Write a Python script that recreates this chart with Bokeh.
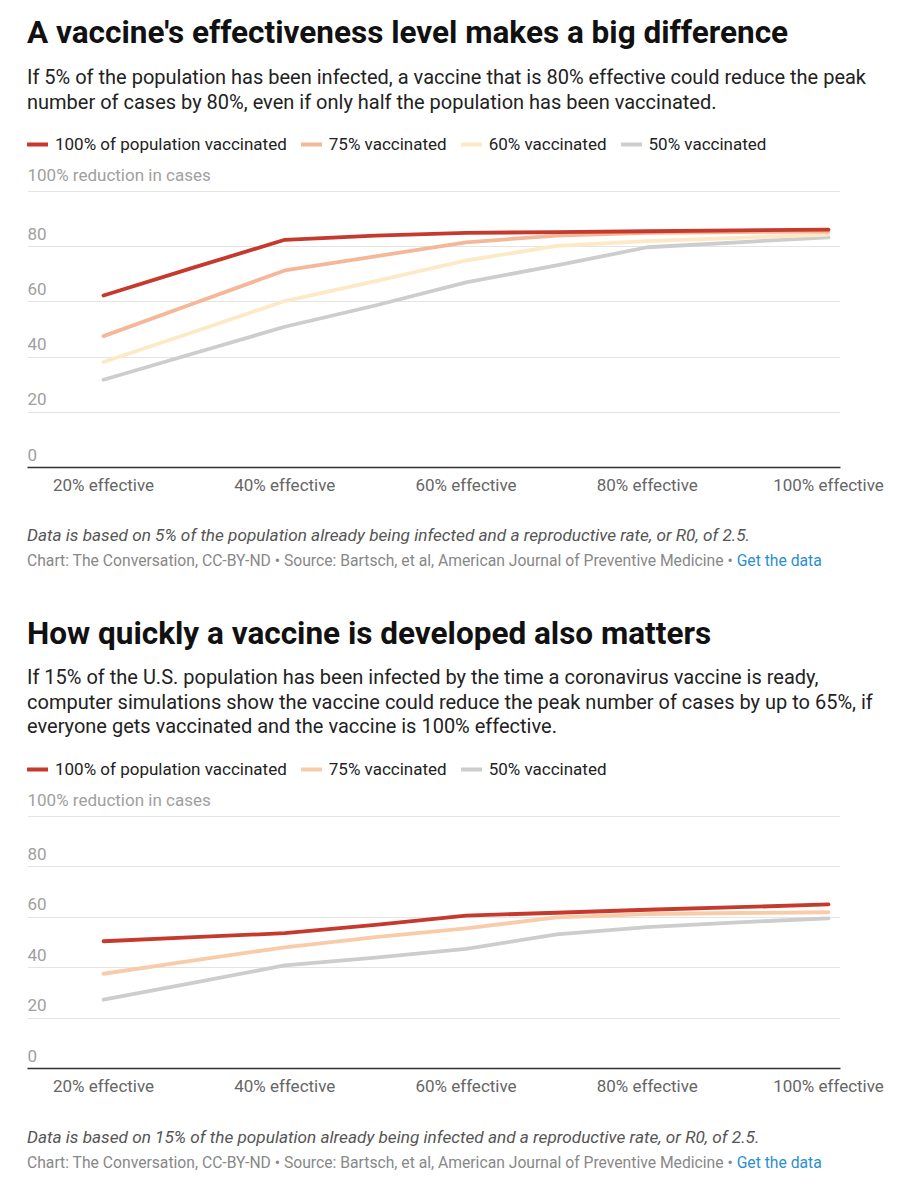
from bokeh.plotting import figure
from bokeh.models import Range1d, FixedTicker, Legend, LegendItem, Div, ColumnDataSource
from bokeh.layouts import column
from bokeh.core.properties import value
from bokeh.embed import file_html
from bokeh.resources import INLINE

# ---------------- data ----------------
effectiveness = [20, 30, 40, 50, 60, 70, 80, 90, 100]
x_ticks = [20, 40, 60, 80, 100]
x_tick_labels = ["20% effective", "40% effective", "60% effective", "80% effective", "100% effective"]
y_ticks = [0, 20, 40, 60, 80, 100]
y_tick_labels = ["0", "20", "40", "60", "80", "100% reduction in cases"]

# chart 1 (5% already infected)
c1_labels = ["100% of population vaccinated", "75% vaccinated", "60% vaccinated", "50% vaccinated"]
c1_vacc100 = [62.3, 72.5, 82.5, 84.0, 85.0, 85.3, 85.6, 85.9, 86.2]
c1_vacc75 = [47.6, 59.5, 71.4, 76.5, 81.6, 84.0, 85.0, 85.3, 85.5]
c1_vacc60 = [38.2, 49.2, 60.3, 67.5, 75.0, 80.3, 82.0, 83.2, 84.4]
c1_vacc50 = [31.8, 41.4, 51.0, 58.7, 67.1, 73.2, 79.8, 81.6, 83.4]
c1_colors = ["#c53a2d", "#f4b898", "#fde9c6", "#cdcdcd"]

# chart 2 (15% already infected)
c2_labels = ["100% of population vaccinated", "75% vaccinated", "50% vaccinated"]
c2_vacc100 = [50.5, 52.1, 53.7, 57.0, 60.7, 61.8, 63.0, 64.0, 65.1]
c2_vacc75 = [37.6, 42.9, 48.1, 52.1, 55.6, 60.0, 61.3, 61.7, 62.0]
c2_vacc50 = [27.3, 34.1, 40.9, 44.0, 47.5, 53.2, 56.1, 58.0, 59.6]
c2_colors = ["#c53a2d", "#f8cca8", "#cdcdcd"]

FONT = "Roboto"
W = 914


def make_chart(series, labels, colors, ye, frame_h):
    top, bottom = 14, 40
    xs, xe = 11.61, 101.32
    p = figure(width=W, height=top + frame_h + bottom,
               x_range=Range1d(xs, xe), y_range=Range1d(0, ye),
               output_backend="svg", toolbar_location=None,
               min_border_left=27, min_border_right=74,
               min_border_top=top, min_border_bottom=bottom,
               y_axis_location=None, outline_line_color=None, margin=0)
    p.title.visible = False
    p.background_fill_color = "white"
    p.border_fill_color = "white"

    # grid
    p.xgrid.visible = False
    p.ygrid.ticker = FixedTicker(ticks=y_ticks)
    p.ygrid.grid_line_color = "#e4e4e4"
    p.ygrid.grid_line_width = 1

    # x axis
    ax = p.xaxis[0]
    ax.ticker = FixedTicker(ticks=x_ticks)
    ax.major_label_overrides = {t: l for t, l in zip(x_ticks, x_tick_labels)}
    ax.major_tick_line_color = None
    ax.minor_tick_line_color = None
    ax.axis_line_color = "#333333"
    ax.axis_line_width = 1.6
    ax.major_label_text_font = FONT
    ax.major_label_text_font_size = "17px"
    ax.major_label_text_color = "#666666"
    ax.major_label_standoff = 1

    # y tick labels drawn inside the frame, above the grid lines
    src = ColumnDataSource(dict(x=[xs] * len(y_ticks), y=y_ticks, t=y_tick_labels))
    p.text(x="x", y="y", text="t", source=src, text_font=value(FONT),
           text_font_size="17px", text_color="#a0a0a0",
           text_baseline="bottom", text_align="left", y_offset=-7)

    items = []
    for vals, lab, col in zip(series, labels, colors):
        r = p.line(effectiveness, vals, line_color=col, line_width=3.8,
                   line_cap="round", line_join="round")
        items.append(LegendItem(label=lab, renderers=[r]))
    # draw first series on top
    p.renderers = [p.renderers[0]] + p.renderers[1:][::-1]

    leg = Legend(items=items, location="top_left", orientation="horizontal",
                 margin=0, padding=0, spacing=14, glyph_width=21, glyph_height=20,
                 label_standoff=7, label_height=20,
                 label_text_font=FONT, label_text_font_size="17px",
                 label_text_color="#222222",
                 border_line_color=None, background_fill_alpha=0)
    p.add_layout(leg, "center")
    return p


def header(title, sub_lines, height, t_top, s_top):
    sub = "<br>".join(sub_lines)
    return (
        f'<div style="position:relative;width:{W}px;height:{height}px;font-family:Roboto,sans-serif;">'
        f'<div style="position:absolute;left:27px;top:{t_top}px;font-size:31.5px;font-weight:700;'
        f'line-height:36px;color:#111;white-space:nowrap;">{title}</div>'
        f'<div style="position:absolute;left:27px;top:{s_top}px;font-size:20px;line-height:24.5px;'
        f'color:#222;white-space:nowrap;">{sub}</div></div>'
    )


def footer(note, height, top):
    return (
        f'<div style="position:relative;width:{W}px;height:{height}px;font-family:Roboto,sans-serif;">'
        f'<div style="position:absolute;left:27px;top:{top}px;font-size:17.2px;font-style:italic;'
        f'line-height:20px;color:#555;white-space:nowrap;">{note}</div>'
        f'<div style="position:absolute;left:27px;top:{top + 26}px;font-size:15.7px;line-height:20px;'
        f'color:#888;white-space:nowrap;">Chart: The Conversation, CC-BY-ND \u2022 '
        f'Source: Bartsch, et al, American Journal of Preventive Medicine \u2022 '
        f'<span style="color:#2b8fd0;">Get the data</span></div></div>'
    )


div1 = Div(text=header("A vaccine's effectiveness level makes a big difference",
                       ["If 5% of the population has been infected, a vaccine that is 80% effective could reduce the peak",
                        "number of cases by 80%, even if only half the population has been vaccinated."],
                       120, 15, 65),
           width=W, height=120, margin=0)

p1 = make_chart([c1_vacc100, c1_vacc75, c1_vacc60, c1_vacc50], c1_labels, c1_colors,
                ye=100 + (191 - 134) / 2.76, frame_h=467 - 134)

foot1 = Div(text=footer("Data is based on 5% of the population already being infected and a reproductive rate, or R0, of 2.5.", 83, 18),
            width=W, height=83, margin=0)

div2 = Div(text=header("How quickly a vaccine is developed also matters",
                       ["If 15% of the U.S. population has been infected by the time a coronavirus vaccine is ready,",
                        "computer simulations show the vaccine could reduce the peak number of cases by up to 65%, if",
                        "everyone gets vaccinated and the vaccine is 100% effective."],
                       155, 26, 75),
           width=W, height=155, margin=0)

p2 = make_chart([c2_vacc100, c2_vacc75, c2_vacc50], c2_labels, c2_colors,
                ye=100 + (816 - 759) / 2.52, frame_h=1068 - 759)

foot2 = Div(text=footer("Data is based on 15% of the population already being infected and a reproductive rate, or R0, of 2.5.", 92, 19),
            width=W, height=92, margin=0)

layout = column(div1, p1, foot1, div2, p2, foot2, spacing=0, margin=0)

open("out.html", "w").write(file_html(layout, INLINE))
